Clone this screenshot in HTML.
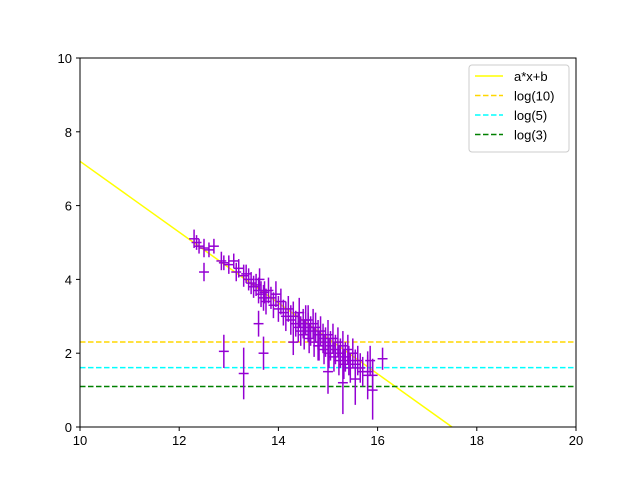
<!DOCTYPE html>
<html><head><meta charset="utf-8"><style>
body{margin:0;background:#fff;}
svg text{font-family:"Liberation Sans","DejaVu Sans",sans-serif;font-size:13px;fill:#000;}
</style></head><body>
<svg width="640" height="480" xmlns="http://www.w3.org/2000/svg">
<g id="plot"></g>
</svg>
<script>
const xTicks=[10,12,14,16,18,20];
const yTicks=[0,2,4,6,8,10];
const lineA=-0.96, lineB=16.8;
const hLines=[2.303,1.609,1.099];
const hLabels=["log(10)","log(5)","log(3)"];
const ptX=[12.3,12.35,12.4,12.5,12.6,12.7,12.5,12.85,12.9,13.0,13.1,13.15,13.2,13.3,13.35,13.4,13.45,13.5,13.55,13.6,13.62,13.65,13.7,13.72,13.75,13.8,13.85,13.9,13.95,14.0,14.05,14.1,14.15,14.2,14.25,14.3,14.35,14.4,14.42,14.45,14.5,14.52,14.55,14.6,14.62,14.65,14.7,14.72,14.75,14.8,14.82,14.85,14.9,14.92,14.95,15.0,15.02,15.05,15.1,15.12,15.15,15.2,15.22,15.25,15.3,15.32,15.35,15.4,15.42,15.45,15.5,15.55,15.6,15.65,15.7,15.8,15.85,15.9,16.1,12.9,13.3,13.7,13.6,15.3,15.8,15.9,15.0,14.6,15.55,14.3,14.8];
const ptY=[5.1,5.0,4.9,4.85,4.8,4.9,4.2,4.5,4.45,4.4,4.5,4.2,4.3,4.1,4.15,4.0,3.9,3.8,3.85,3.7,4.0,3.6,3.5,3.65,3.4,3.7,3.5,3.3,3.6,3.2,3.4,3.1,3.0,3.2,2.9,3.0,2.8,2.7,3.1,2.6,2.8,2.5,2.9,2.7,2.4,2.6,2.8,2.3,2.7,2.5,2.2,2.6,2.4,2.1,2.3,2.5,2.0,2.2,2.4,1.9,2.1,2.3,1.8,2.0,2.2,1.7,1.9,2.1,1.8,1.6,2.0,1.7,1.8,1.6,1.5,1.5,1.8,1.4,1.85,2.05,1.45,2.0,2.8,1.2,1.4,1.0,1.5,2.9,1.3,2.3,2.2];
const ptE=[0.25,0.2,0.2,0.25,0.2,0.2,0.25,0.25,0.2,0.25,0.2,0.25,0.25,0.3,0.25,0.3,0.3,0.3,0.3,0.35,0.3,0.35,0.35,0.3,0.35,0.35,0.3,0.35,0.35,0.35,0.35,0.35,0.4,0.35,0.4,0.4,0.35,0.4,0.4,0.4,0.4,0.4,0.4,0.4,0.4,0.4,0.4,0.4,0.4,0.4,0.4,0.4,0.4,0.4,0.4,0.4,0.4,0.4,0.4,0.4,0.4,0.4,0.4,0.4,0.4,0.4,0.4,0.4,0.4,0.4,0.4,0.4,0.4,0.4,0.4,0.45,0.4,0.45,0.3,0.45,0.7,0.45,0.35,0.85,0.65,0.8,0.6,0.4,0.7,0.35,0.4];
const NS="http://www.w3.org/2000/svg";
const L=80,R=576,T=58,B=427;
const sx=v=>L+(v-10)/10*(R-L);
const sy=v=>B-v/10*(B-T);
const g=document.getElementById('plot');
function mk(t,a){const e=document.createElementNS(NS,t);for(const k in a)e.setAttribute(k,a[k]);g.appendChild(e);return e;}
let e=mk('rect',{x:L,y:T,width:R-L,height:B-T,fill:'#fff'});


xTicks.forEach(t=>{const x=sx(t);
let l=mk('line',{x1:x,x2:x,y1:B,y2:B+4,stroke:'#000'});


let tx=mk('text',{x:x,y:B+18,'text-anchor':'middle'});tx.textContent=t;

});
yTicks.forEach(t=>{const y=sy(t);
let l=mk('line',{x1:L-4,x2:L,y1:y,y2:y,stroke:'#000'});


let tx=mk('text',{x:L-8,y:y+5,'text-anchor':'end'});tx.textContent=t;

});
// fit line
const x0=10,x1=-lineB/lineA;
e=mk('line',{x1:sx(x0),y1:sy(lineA*x0+lineB),x2:sx(x1),y2:sy(0),stroke:'#ffff00','stroke-width':1.5});


const hc=['#ffd700','#00ffff','#008000'];
hLines.forEach((v,i)=>{let l=mk('line',{x1:L,x2:R,y1:sy(v),y2:sy(v),stroke:hc[i],'stroke-width':1.5,'stroke-dasharray':'5.5,2.5'});

});
for(let i=0;i<ptX.length;i++){
const x=sx(ptX[i]),y=sy(ptY[i]);
let v=mk('line',{x1:x,x2:x,y1:sy(ptY[i]-ptE[i]),y2:sy(ptY[i]+ptE[i]),stroke:'#9400d3','stroke-width':1.5});


let h=mk('line',{x1:sx(ptX[i]-0.1),x2:sx(ptX[i]+0.1),y1:y,y2:y,stroke:'#9400d3','stroke-width':1.5});


}
e=mk('rect',{x:L,y:T,width:R-L,height:B-T,fill:'none',stroke:'#000','stroke-width':1});


// legend
e=mk('rect',{x:469,y:65,width:100,height:87,fill:'#fff',stroke:'#ccc',rx:3});


const lc=['#ffff00'].concat(hc),ll=['a*x+b'].concat(hLabels);
ll.forEach((s,i)=>{const y=76+i*19.5;
let l=mk('line',{x1:475,x2:503,y1:y,y2:y,stroke:lc[i],'stroke-width':1.5});
if(i>0)l.setAttribute('stroke-dasharray','5.5,2.5');


let t=mk('text',{x:514,y:y+5});t.textContent=s;

});
</script>
</body></html>
